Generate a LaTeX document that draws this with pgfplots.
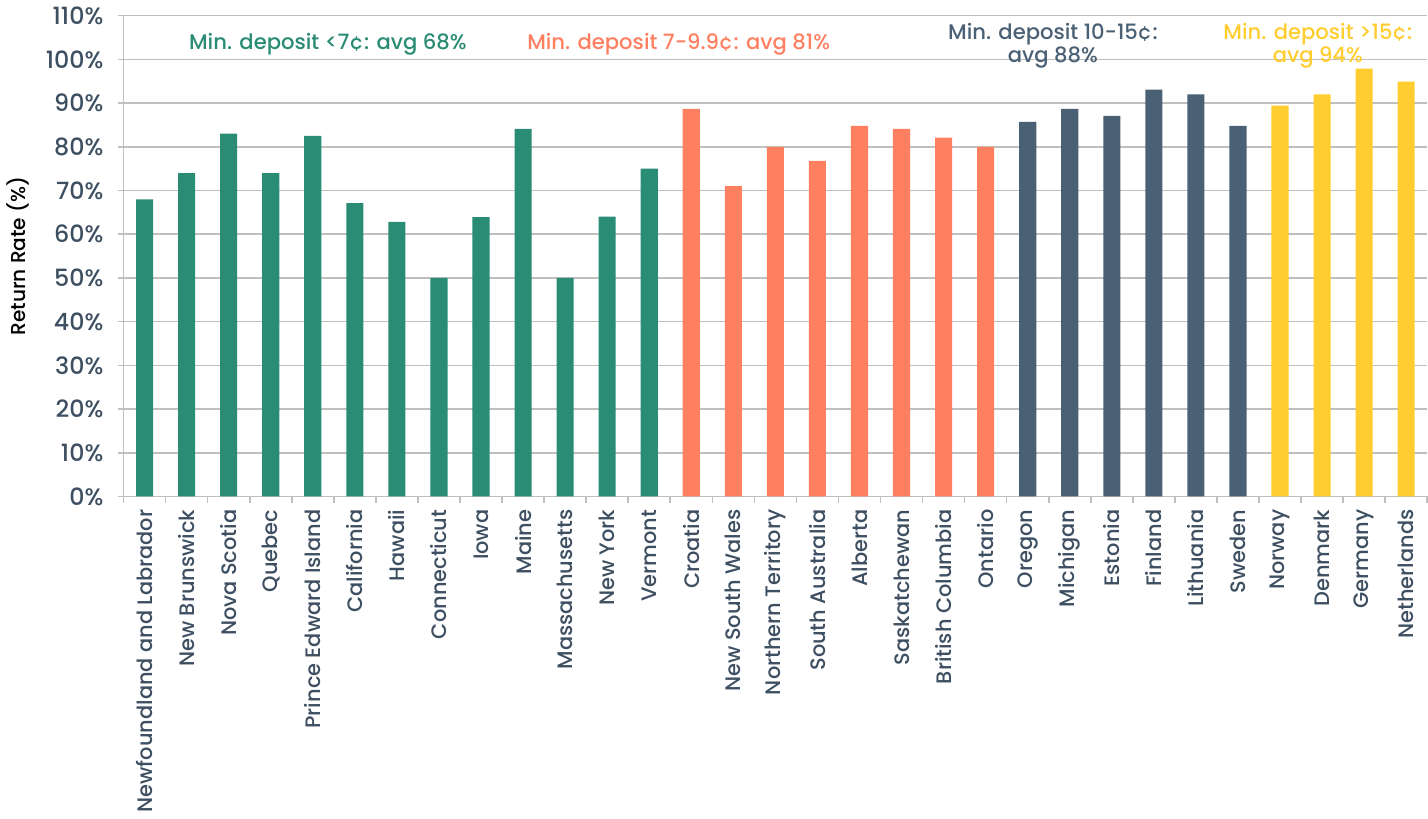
\documentclass[border=0pt]{standalone}
\usepackage{pgfplots}
\pgfplotsset{compat=1.18}
\usepackage{fontspec}
\setmainfont{Poppins}[UprightFont=*-Medium]
\definecolor{cgreen}{HTML}{2A8C74}
\definecolor{corange}{HTML}{FF7F61}
\definecolor{cslate}{HTML}{4A6175}
\definecolor{cyellow}{HTML}{FFCD2F}
\definecolor{ctext}{HTML}{3D4F61}
\definecolor{cgrid}{HTML}{BFBFBF}
\begin{document}
\begin{tikzpicture}
\begin{axis}[
  scale only axis,
  width=648pt, height=239pt,
  xmin=-0.5, xmax=30.5,
  ymin=0, ymax=110,
  ybar, bar width=8.5pt, bar shift=0pt,
  axis lines=left,
  axis line style={cgrid, line width=0.8pt, -},
  ymajorgrids, grid style={cgrid, line width=0.8pt},
  ytick={0,10,...,110},
  yticklabel={\pgfmathprintnumber{\tick}\%},
  /pgf/number format/assume math mode=true,
  yticklabel style={font=\fontsize{11.8}{13}\selectfont, text=ctext, xshift=-3.5pt},
  xtick={0,...,30},
  xticklabels={Newfoundland and Labrador,New Brunswick,Nova Scotia,Quebec,Prince Edward Island,California,Hawaii,Connecticut,Iowa,Maine,Massachusetts,New York,Vermont,Croatia,New South Wales,Northern Territory,South Australia,Alberta,Saskatchewan,British Columbia,Ontario,Oregon,Michigan,Estonia,Finland,Lithuania,Sweden,Norway,Denmark,Germany,Netherlands},
  xticklabel style={rotate=90, anchor=east, font=\fontsize{10.4}{12}\selectfont, text=ctext},
  minor xtick={-0.5,0.5,...,30.5},
  major x tick style={draw=none},
  minor x tick style={cgrid, line width=0.8pt},
  y tick style={cgrid, line width=0.8pt},
  tick align=outside,
  major tick length=3pt, minor tick length=3pt,
  ylabel={Return Rate (\%)},
  ylabel style={font=\fontsize{9.3}{11}\selectfont, text=ctext},
  every axis y label/.style={at={(axis description cs:-0.081,0.5)}, rotate=90, anchor=center},
  clip=false,
]
\addplot[fill=cgreen, draw=none] coordinates {(0,68) (1,74) (2,83) (3,74) (4,82.5) (5,67.1) (6,62.8) (7,50) (8,63.9) (9,84.1) (10,50) (11,64) (12,75)};
\addplot[fill=corange, draw=none] coordinates {(13,88.7) (14,71) (15,80) (16,76.8) (17,84.8) (18,84.1) (19,82.1) (20,80)};
\addplot[fill=cslate, draw=none] coordinates {(21,85.7) (22,88.7) (23,87.1) (24,93.1) (25,92) (26,84.8)};
\addplot[fill=cyellow, draw=none] coordinates {(27,89.4) (28,92) (29,97.9) (30,94.9)};
\node[text=cgreen, font=\fontsize{10.5}{12}\selectfont] at (axis cs:4.36,103.5) {Min. deposit <7¢: avg 68\%};
\node[text=corange, font=\fontsize{10.5}{12}\selectfont] at (axis cs:12.7,103.5) {Min. deposit 7-9.9¢: avg 81\%};
\node[text=cslate, font=\fontsize{10.5}{11.5}\selectfont, align=center] at (axis cs:21.6,103.2) {Min. deposit 10-15¢:\\avg 88\%};
\node[text=cyellow, font=\fontsize{10.5}{11.5}\selectfont, align=center] at (axis cs:27.9,103.2) {Min. deposit >15¢:\\avg 94\%};
\end{axis}
\end{tikzpicture}
\end{document}
